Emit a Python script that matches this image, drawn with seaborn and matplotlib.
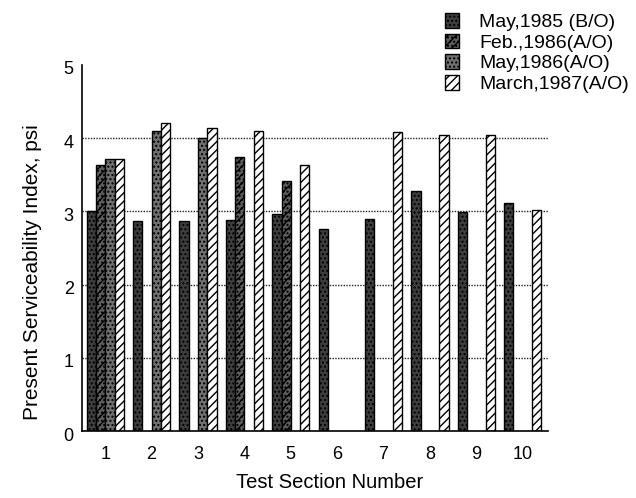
import numpy as np
import pandas as pd
import matplotlib
matplotlib.use("Agg")
import matplotlib.pyplot as plt
import matplotlib.transforms as mtransforms
from matplotlib.patches import Patch
import seaborn as sns

sections = [1, 2, 3, 4, 5, 6, 7, 8, 9, 10]
series = ["May,1985 (B/O)", "Feb.,1986(A/O)", "May,1986(A/O)", "March,1987(A/O)"]
may85 = [3.00, 2.87, 2.87, 2.88, 2.97, 2.76, 2.89, 3.28, 2.99, 3.12]
feb86 = [3.64, np.nan, np.nan, 3.74, 3.42, np.nan, np.nan, np.nan, np.nan, np.nan]
may86 = [3.71, 4.10, 4.00, np.nan, np.nan, np.nan, np.nan, np.nan, np.nan, np.nan]
mar87 = [3.71, 4.21, 4.14, 4.10, 3.63, np.nan, 4.09, 4.05, 4.04, 3.02]

rows = []
for name, vals in zip(series, [may85, feb86, may86, mar87]):
    for s, v in zip(sections, vals):
        if not np.isnan(v):
            rows.append({"section": s, "series": name, "psi": v})
df = pd.DataFrame(rows)

sns.set_style("white")
plt.rcParams["font.family"] = ["Liberation Sans", "DejaVu Sans"]
plt.rcParams["hatch.linewidth"] = 1.0
plt.rcParams["text.color"] = "black"
plt.rcParams["axes.labelcolor"] = "black"
plt.rcParams["xtick.color"] = "black"
plt.rcParams["ytick.color"] = "black"

fig = plt.figure(figsize=(6.36, 4.98), dpi=100)
ax = fig.add_axes([0.129, 0.1345, 0.733, 0.735])

facecolors = ["#3e3e3e", "#5e5e5e", "#707070", "white"]
hatches = ["....", "////....", "....", "////"]

sns.barplot(data=df, x="section", y="psi", hue="series", hue_order=series,
            order=sections, width=0.8, gap=0, ax=ax, legend=False,
            errorbar=None, saturation=1)

for cont, fc, h in zip(ax.containers, facecolors, hatches):
    for bar in cont:
        bar.set_facecolor(fc)
        bar.set_edgecolor("black")
        bar.set_hatch(h)
        bar.set_linewidth(1.0)

ax.set_ylim(0, 5)
ax.set_xlim(-0.45, 9.55)
ax.set_yticks([0, 1, 2, 3, 4, 5])
ax.set_yticks(np.arange(0.5, 5, 1), minor=True)
ax.set_xticks(np.arange(-0.5, 10, 1), minor=True)
for y in [1, 2, 3, 4]:
    ax.axhline(y, color="#222222", lw=1.0, ls=(0, (1, 1)), zorder=0)
ax.tick_params(axis="y", which="major", direction="in", length=5, width=1, labelsize=13, pad=6)
ax.tick_params(axis="y", which="minor", direction="in", length=3, width=1)
ax.tick_params(axis="x", which="major", length=0, labelsize=13, pad=11)
ax.tick_params(axis="x", which="minor", direction="in", length=4, width=1)
for sp in ["top", "right"]:
    ax.spines[sp].set_visible(False)
for sp in ["left", "bottom"]:
    ax.spines[sp].set_color("black")
    ax.spines[sp].set_linewidth(1.2)

offset = mtransforms.ScaledTranslation(0, -3 / 100, fig.dpi_scale_trans)
for lab in ax.get_yticklabels():
    lab.set_transform(lab.get_transform() + offset)

ax.set_xlabel("Test Section Number", fontsize=14.5)
ax.set_ylabel("Present Serviceability Index, psi", fontsize=15)
ax.xaxis.set_label_coords(0.532, -0.115)
ax.yaxis.set_label_coords(-0.085, 0.434)

handles = [Patch(facecolor=fc, edgecolor="black", hatch=h, label=s)
           for fc, h, s in zip(facecolors, hatches, series)]
fig.legend(handles=handles, loc="upper left", bbox_to_anchor=(0.675, 1.005),
           frameon=False, fontsize=14, handlelength=0.75, handleheight=0.8,
           handletextpad=1.0, labelspacing=0.12, borderpad=0.3)

fig.savefig("out.png", dpi=100)
